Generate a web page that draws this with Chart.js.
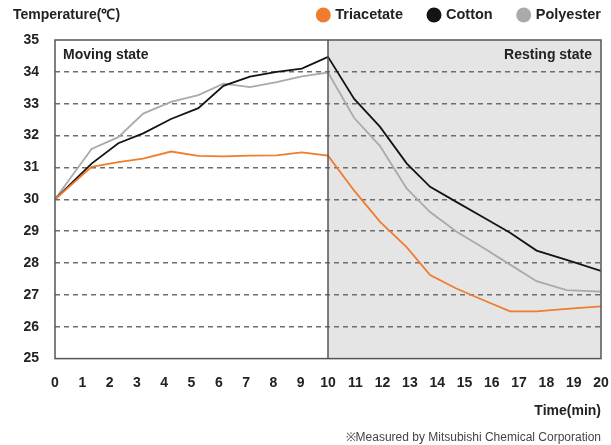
<!DOCTYPE html>
<html>
<head>
<meta charset="utf-8">
<script src="https://cdn.jsdelivr.net/npm/chart.js@4/dist/chart.umd.min.js"></script>
<style>
  html, body { margin: 0; padding: 0; background: #fff; }
  #wrap { width: 611px; height: 445px; }
</style>
</head>
<body>
<div id="wrap"><canvas id="tempChart"></canvas></div>
<script>
const times = [0, 1.34, 2.32, 3.23, 4.25, 5.25, 6.17, 7.14, 8.12, 9.04, 10, 10.96, 11.9, 12.88, 13.74, 14.7, 15.7, 16.67, 17.64, 18.74, 20];
const triacetate = [30, 31.02, 31.17, 31.28, 31.5, 31.36, 31.35, 31.37, 31.38, 31.47, 31.37, 30.27, 29.3, 28.5, 27.62, 27.2, 26.83, 26.48, 26.48, 26.56, 26.64];
const cotton = [30, 31.12, 31.76, 32.07, 32.52, 32.86, 33.56, 33.85, 34.0, 34.1, 34.47, 33.15, 32.28, 31.13, 30.39, 29.92, 29.43, 28.95, 28.39, 28.1, 27.75];
const polyester = [30, 31.58, 31.95, 32.69, 33.06, 33.27, 33.63, 33.52, 33.68, 33.86, 33.98, 32.55, 31.68, 30.34, 29.6, 28.99, 28.47, 27.95, 27.43, 27.15, 27.1];
const restStart = 10;

const FONT = "'Liberation Sans', Arial, sans-serif";
const pts = (vals) => vals.map((v, i) => ({ x: times[i], y: v }));

// grey background for the resting half, plot frame, labels and the legend
const framePlugin = {
    id: 'frame',
    beforeDraw(chart) {
        const { ctx, chartArea: a, scales } = chart;
        const xr = scales.x.getPixelForValue(restStart);
        ctx.save();
        ctx.fillStyle = '#e5e5e5';
        ctx.fillRect(xr, a.top, a.right - xr, a.bottom - a.top);
        ctx.restore();
    },
    afterDraw(chart) {
        const { ctx, chartArea: a, scales } = chart;
        const xr = scales.x.getPixelForValue(restStart);
        ctx.save();
        ctx.strokeStyle = '#555';
        ctx.lineWidth = 1.5;
        ctx.strokeRect(a.left, a.top, a.right - a.left, a.bottom - a.top);
        ctx.beginPath();
        ctx.moveTo(xr, a.top);
        ctx.lineTo(xr, a.bottom);
        ctx.stroke();

        ctx.fillStyle = '#222';
        ctx.font = 'bold 14px ' + FONT;
        ctx.textBaseline = 'middle';
        ctx.textAlign = 'left';
        ctx.fillText('Moving state', a.left + 8, a.top + 15);
        ctx.fillText('Temperature(℃)', 13, 15);
        ctx.textAlign = 'right';
        ctx.fillText('Resting state', a.right - 9, a.top + 15);

        // legend, laid out from the right edge
        ctx.font = 'bold 14.5px ' + FONT;
        ctx.textAlign = 'left';
        let x = a.right;
        chart.data.datasets.slice().reverse().forEach((ds) => {
            const w = ctx.measureText(ds.label).width;
            const tx = x - w;
            const cx = tx - 12;
            ctx.fillStyle = '#222';
            ctx.fillText(ds.label, tx, 15);
            ctx.fillStyle = ds.borderColor;
            ctx.beginPath();
            ctx.arc(cx, 15, 7.5, 0, Math.PI * 2);
            ctx.fill();
            x = cx - 31;
        });
        ctx.restore();
    }
};

new Chart(document.getElementById('tempChart'), {
    type: 'line',
    data: {
        datasets: [
            {
                label: 'Triacetate',
                data: pts(triacetate),
                borderColor: '#f07c2f',
                borderWidth: 1.8,
                pointRadius: 0,
                tension: 0
            },
            {
                label: 'Cotton',
                data: pts(cotton),
                borderColor: '#141414',
                borderWidth: 1.8,
                pointRadius: 0,
                tension: 0
            },
            {
                label: 'Polyester',
                data: pts(polyester),
                borderColor: '#aaaaaa',
                borderWidth: 1.8,
                pointRadius: 0,
                tension: 0
            }
        ]
    },
    options: {
        responsive: true,
        maintainAspectRatio: false,
        animation: false,
        layout: { padding: { left: 0, right: 10, top: 40, bottom: 0 } },
        plugins: {
            legend: { display: false },
            subtitle: {
                display: true,
                position: 'bottom',
                align: 'end',
                text: '※Measured by Mitsubishi Chemical Corporation',
                color: '#444',
                font: { family: FONT, size: 12 },
                padding: { top: 11, bottom: 0 }
            },
            tooltip: { enabled: false }
        },
        scales: {
            x: {
                type: 'linear',
                min: 0,
                max: 20,
                afterFit(scale) {
                    scale.height = 61;
                    scale.paddingLeft = 0;
                    scale.paddingRight = 0;
                },
                grid: { display: false, drawTicks: false },
                border: { display: false },
                ticks: {
                    stepSize: 1,
                    padding: 16,
                    maxRotation: 0,
                    autoSkip: false,
                    color: '#222',
                    font: { family: FONT, size: 14, weight: 'bold' }
                },
                title: {
                    display: true,
                    text: 'Time(min)',
                    align: 'end',
                    color: '#222',
                    font: { family: FONT, size: 14, weight: 'bold' },
                    padding: { top: 0, bottom: 0 }
                }
            },
            y: {
                min: 25,
                max: 35,
                afterFit(scale) { scale.width = 55; },
                border: { display: false, dash: [5, 4] },
                grid: {
                    drawTicks: false,
                    color: (c) => (c.tick.value === 25 || c.tick.value === 35) ? 'rgba(0,0,0,0)' : '#6e6e6e',
                    lineWidth: 1.4
                },
                ticks: {
                    stepSize: 1,
                    padding: 16,
                    color: '#222',
                    font: { family: FONT, size: 14, weight: 'bold' }
                }
            }
        }
    },
    plugins: [framePlugin]
});
</script>
</body>
</html>
